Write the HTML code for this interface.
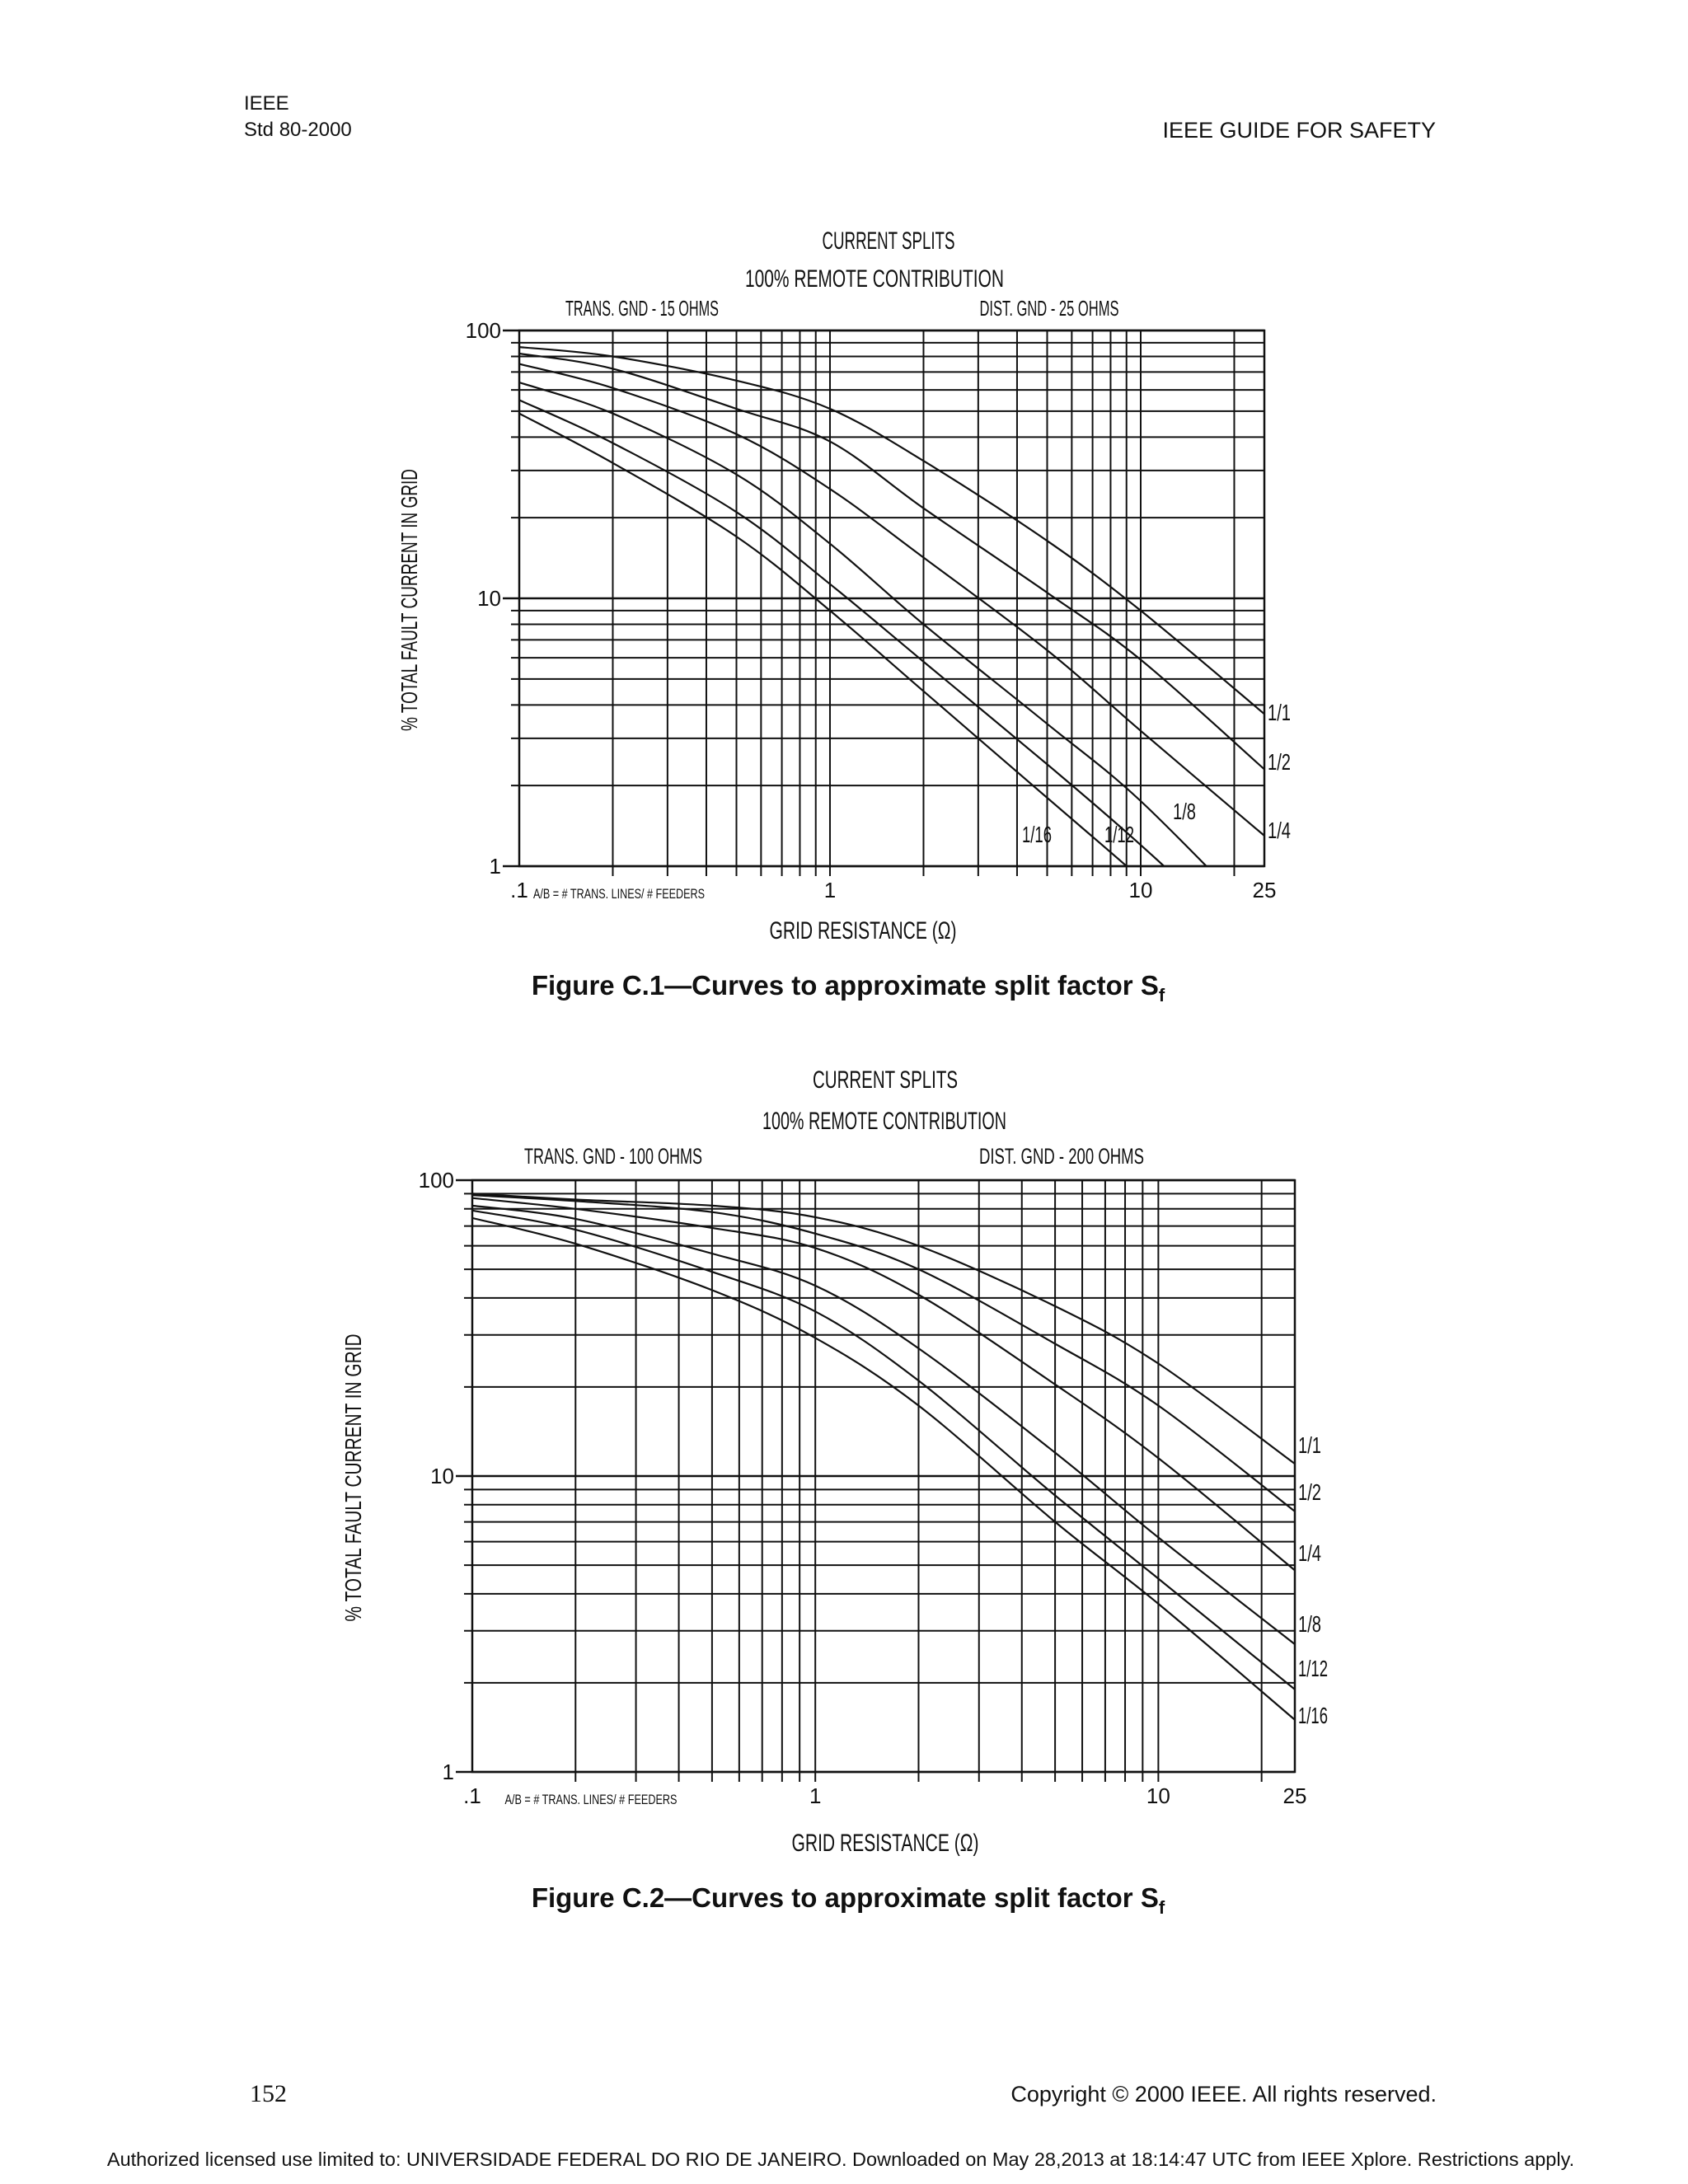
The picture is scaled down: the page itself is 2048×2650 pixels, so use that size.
<!DOCTYPE html>
<html><head><meta charset="utf-8">
<style>
html,body{margin:0;padding:0;background:#fff;}
svg{display:block;}
.n{font-family:"Liberation Sans Narrow","Liberation Sans",sans-serif;fill:#111;}
.h{font-family:"Liberation Sans",sans-serif;fill:#111;}
</style></head>
<body>
<svg id="page" width="2048" height="2650" viewBox="0 0 2048 2650" xmlns="http://www.w3.org/2000/svg">
<text class="h" x="296" y="133" font-size="24">IEEE</text>
<text class="h" x="296" y="165" font-size="24">Std 80-2000</text>
<text class="h" x="1742" y="167" font-size="27" text-anchor="end">IEEE GUIDE FOR SAFETY</text>
<g id="c1"></g>
<g id="c2"></g>
<text class="h" x="1029" y="1207" font-size="33" font-weight="bold" text-anchor="middle">Figure C.1—Curves to approximate split factor S<tspan font-size="22" dy="8">f</tspan></text>
<text class="h" x="1029" y="2314" font-size="33" font-weight="bold" text-anchor="middle">Figure C.2—Curves to approximate split factor S<tspan font-size="22" dy="8">f</tspan></text>
<text x="303" y="2550" font-size="30" font-family="Liberation Serif,serif" fill="#111">152</text>
<text class="h" x="1743" y="2550" font-size="27" text-anchor="end">Copyright © 2000 IEEE. All rights reserved.</text>
<text class="h" x="1020" y="2628" font-size="23.5" text-anchor="middle">Authorized licensed use limited to: UNIVERSIDADE FEDERAL DO RIO DE JANEIRO. Downloaded on May 28,2013 at 18:14:47 UTC from IEEE Xplore.  Restrictions apply.</text>
</svg>
<script>
const xSamples = [0.1, 0.2, 0.5, 1, 2, 5, 10, 25];
const seriesNames = ["1/1","1/2","1/4","1/8","1/12","1/16"];
const c1_11 = [86.7, 80, 65, 51, 32.6, 16.4, 9.0, 3.7];
const c1_12 = [82, 72, 51, 38.5, 21.7, 10.5, 5.9, 2.3];
const c1_14 = [75, 61, 41, 25.6, 14.2, 6.4, 3.2, 1.3];
const c1_18 = [64, 49, 29, 16, 8, 3.4, 1.75, 0.6];
const c1_112 = [55, 38, 21, 11.3, 5.8, 2.4, 1.2, 0.45];
const c1_116 = [49, 32, 17, 9, 4.5, 1.8, 0.9, 0.35];
const c2_11 = [90, 86, 82, 75, 60, 37.5, 24, 11];
const c2_12 = [89, 85, 78, 66, 50, 28, 17.3, 7.6];
const c2_14 = [87, 80, 69, 59, 41, 20.4, 11.5, 4.8];
const c2_18 = [82, 74, 56.5, 44, 27, 12, 6.2, 2.7];
const c2_112 = [79, 68, 49, 36, 21, 8.6, 4.5, 1.9];
const c2_116 = [74.5, 61, 42.5, 29.3, 17.3, 7, 3.7, 1.5];
const xTickLabels = [".1","1","10","25"];
const xTickValues = [0.1, 1, 10, 25];
const yTickLabels = ["1","10","100"];
const yTickValues = [1, 10, 100];

const NS="http://www.w3.org/2000/svg";
function mk(tag, attrs, parent){const e=document.createElementNS(NS,tag);for(const k in attrs)e.setAttribute(k,attrs[k]);parent.appendChild(e);return e;}

function drawChart(g, box, series, labels, texts){
  const sx=v=>box.l+(Math.log10(v)-Math.log10(0.1))/Math.log10(250)*(box.r-box.l);
  const sy=v=>box.b-(Math.log10(v))/2*(box.b-box.t);
  const id=g.id;
  const clip=mk('clipPath',{id:id+'clip'},g);
  mk('rect',{x:box.l,y:box.t,width:box.r-box.l,height:box.b-box.t},clip);
  const vg=[];
  for(let d of [0.1,1,10]) for(let k=1;k<10;k++){const v=d*k; if(v>0.1&&v<25) vg.push(v);}
  vg.forEach(v=>{
    const l=mk('line',{x1:sx(v),x2:sx(v),y1:box.t,y2:box.b+12,stroke:'#111','stroke-width':2},g);
    
    
  });
  const hg=[];
  for(let d of [1,10]) for(let k=2;k<10;k++) hg.push(d*k);
  hg.forEach(v=>{
    const l=mk('line',{x1:box.l-10,x2:box.r,y1:sy(v),y2:sy(v),stroke:'#111','stroke-width':2},g);
    
    
  });
  yTickValues.forEach((v,i)=>{
    const l=mk('line',{x1:box.l-20,x2:box.r,y1:sy(v),y2:sy(v),stroke:'#111','stroke-width':2.5},g);
    
    
    const t=mk('text',{x:box.l-22,y:sy(v)+9,'font-size':26,'text-anchor':'end',class:'n'},g);
    t.textContent=yTickLabels[i];
    
    
  });
  const fr=mk('rect',{x:box.l,y:box.t,width:box.r-box.l,height:box.b-box.t,fill:'none',stroke:'#111','stroke-width':2.5},g);
  
  
  xTickValues.forEach((v,i)=>{
    const t=mk('text',{x:sx(v),y:box.b+38,'font-size':26,'text-anchor':'middle',class:'n'},g);
    t.textContent=xTickLabels[i];
    
    
  });
  series.forEach((vals,si)=>{
    const P=xSamples.map((x,i)=>[sx(x),sy(vals[i])]);
    let d='M'+P[0][0].toFixed(1)+','+P[0][1].toFixed(1);
    for(let i=0;i<P.length-1;i++){
      const p0=P[Math.max(0,i-1)],p1=P[i],p2=P[i+1],p3=P[Math.min(P.length-1,i+2)];
      const c1=[p1[0]+(p2[0]-p0[0])/6,p1[1]+(p2[1]-p0[1])/6];
      const c2=[p2[0]-(p3[0]-p1[0])/6,p2[1]-(p3[1]-p1[1])/6];
      d+='C'+c1[0].toFixed(1)+','+c1[1].toFixed(1)+' '+c2[0].toFixed(1)+','+c2[1].toFixed(1)+' '+p2[0].toFixed(1)+','+p2[1].toFixed(1);
    }
    const path=mk('path',{d:d,fill:'none',stroke:'#111','stroke-width':2.2,'clip-path':'url(#'+id+'clip)'},g);
    
    
  });
  labels.forEach((lb,i)=>{
    const t=mk('text',{x:lb[0],y:lb[1],'font-size':28,class:'n',textLength:lb[2],lengthAdjust:'spacingAndGlyphs'},g);
    t.textContent=seriesNames[i];
    
    
  });
  texts.forEach(tx=>{
    const t=mk('text',{x:tx.x,y:tx.y,'font-size':tx.s,'text-anchor':'middle',class:'n',textLength:tx.w,lengthAdjust:'spacingAndGlyphs'},g);
    if(tx.rot) t.setAttribute('transform','rotate(-90 '+tx.x+' '+tx.y+')');
    t.textContent=tx.t;
    
    
  });
}

drawChart(document.getElementById('c1'),{l:630,r:1534,t:401,b:1051},
  [c1_11,c1_12,c1_14,c1_18,c1_112,c1_116],
  [[1538,874,28],[1538,934,28],[1538,1017,28],[1423,994,28],[1340,1022,36],[1240,1022,36]],
  [{x:1078,y:302,s:30,w:161,t:'CURRENT SPLITS',n:'chart-title'},
   {x:1061,y:348,s:30,w:314,t:'100% REMOTE CONTRIBUTION',n:'chart-subtitle'},
   {x:779,y:383,s:26,w:186,t:'TRANS. GND - 15 OHMS',n:'trans-gnd-label'},
   {x:1273,y:383,s:26,w:169,t:'DIST. GND - 25 OHMS',n:'dist-gnd-label'},
   {x:751,y:1090,s:17,w:208,t:'A/B = # TRANS. LINES/ # FEEDERS',n:'ab-note'},
   {x:1047,y:1139,s:30,w:227,t:'GRID RESISTANCE (Ω)',n:'x-axis-title'},
   {x:506,y:728,s:28,w:318,t:'% TOTAL FAULT CURRENT IN GRID',n:'y-axis-title',rot:true}]);

drawChart(document.getElementById('c2'),{l:573,r:1571,t:1432,b:2150},
  [c2_11,c2_12,c2_14,c2_18,c2_112,c2_116],
  [[1575,1763,28],[1575,1820,28],[1575,1894,28],[1575,1980,28],[1575,2034,36],[1575,2091,36]],
  [{x:1074,y:1320,s:30,w:176,t:'CURRENT SPLITS',n:'chart-title'},
   {x:1073,y:1370,s:30,w:296,t:'100% REMOTE CONTRIBUTION',n:'chart-subtitle'},
   {x:744,y:1412,s:27,w:216,t:'TRANS. GND - 100 OHMS',n:'trans-gnd-label'},
   {x:1288,y:1412,s:27,w:200,t:'DIST. GND - 200 OHMS',n:'dist-gnd-label'},
   {x:717,y:2189,s:17,w:209,t:'A/B = # TRANS. LINES/ # FEEDERS',n:'ab-note'},
   {x:1074,y:2246,s:30,w:227,t:'GRID RESISTANCE (Ω)',n:'x-axis-title'},
   {x:438,y:1793,s:28,w:349,t:'% TOTAL FAULT CURRENT IN GRID',n:'y-axis-title',rot:true}]);
</script>
</body></html>
